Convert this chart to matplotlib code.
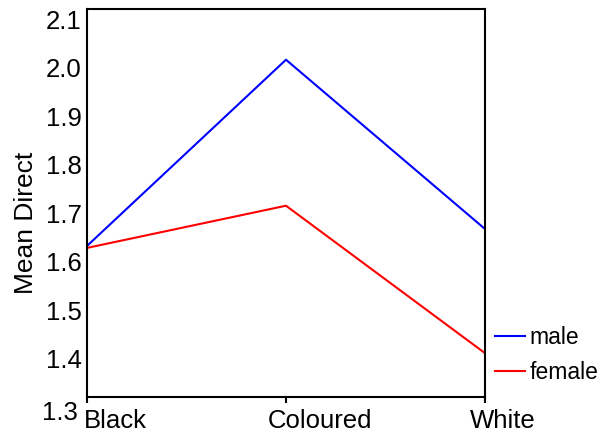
import matplotlib
matplotlib.use("Agg")
import matplotlib.pyplot as plt
from matplotlib.transforms import ScaledTranslation

plt.rcParams['font.family'] = ['Liberation Sans', 'DejaVu Sans']

# data
groups = ['Black', 'Coloured', 'White']
male = [1.633, 2.017, 1.668]
female = [1.629, 1.716, 1.412]
yticks = [1.4, 1.5, 1.6, 1.7, 1.8, 1.9, 2.0, 2.1]

fig = plt.figure(figsize=(6.01, 4.38), dpi=100)
ax = fig.add_axes([87/601, 41/438, 398/601, 388/438])

x = list(range(len(groups)))
ax.plot(x, male, color='#0000ff', lw=1.5, label='male')
ax.plot(x, female, color='#ff0000', lw=1.5, label='female')

ax.set_xlim(0, 2)
ax.set_ylim(1.3216, 2.1216)
ax.set_yticks(yticks)
ax.set_yticklabels(['%.1f' % v for v in yticks])
# the 1.3 label sits below the axis corner
ax.text(-0.022, 1.289, '1.3', transform=ax.get_yaxis_transform(), ha='right',
        va='center', fontsize=18.5, clip_on=False)

ax.set_xticks(x)
ax.set_xticklabels(groups)
ax.tick_params(axis='y', length=0, pad=4, labelsize=18.5)
ax.tick_params(axis='x', length=4, width=1.5, pad=5, labelsize=18.5)

# shift the category labels like the original
offs = [28, 34, 18]
for lbl, dx in zip(ax.get_xticklabels(), offs):
    lbl.set_transform(lbl.get_transform() + ScaledTranslation(dx/100, 0, fig.dpi_scale_trans))

for s in ax.spines.values():
    s.set_linewidth(1.5)

ax.set_ylabel('Mean Direct', fontsize=19)
ax.yaxis.set_label_coords(-0.122, 0.45)

ax.legend(loc='center left', bbox_to_anchor=(1.025, 0.108), frameon=False,
          fontsize=16.5, handlelength=1.3, handletextpad=0.2, labelspacing=0.55,
          borderaxespad=0, borderpad=0)

fig.savefig('out.png', dpi=100)
